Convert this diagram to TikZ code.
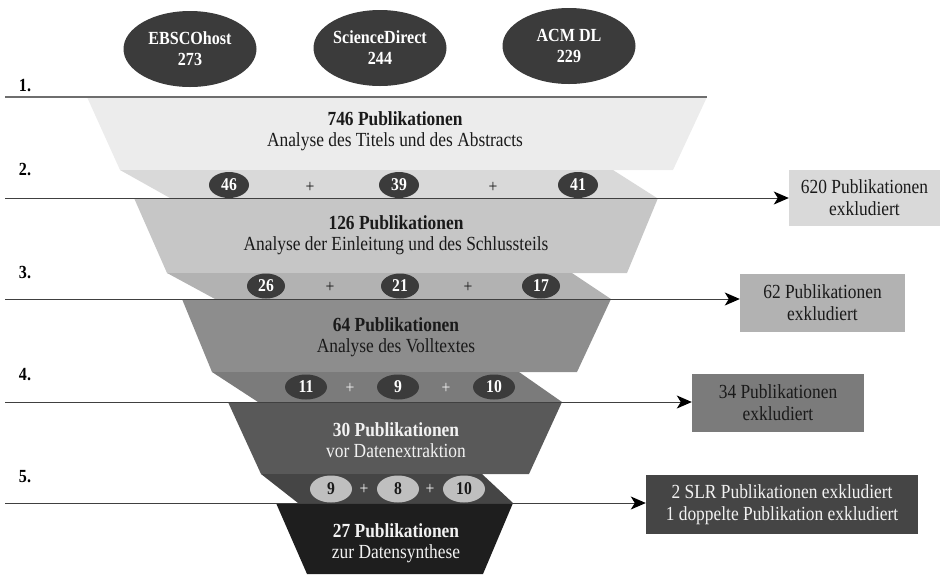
\documentclass[tikz,border=0pt]{standalone}
\usepackage{fontspec}
\setmainfont[FakeStretch=0.87]{Liberation Serif}
\usetikzlibrary{shapes.geometric,arrows.meta}
\definecolor{fA}{HTML}{ECECEC}
\definecolor{fAb}{HTML}{D9D9D9}
\definecolor{fB}{HTML}{C6C6C6}
\definecolor{fBb}{HTML}{B2B2B2}
\definecolor{fC}{HTML}{8D8D8D}
\definecolor{fCb}{HTML}{7B7B7B}
\definecolor{fD}{HTML}{595959}
\definecolor{fDb}{HTML}{454545}
\definecolor{fE}{HTML}{1E1E1E}
\definecolor{ovdark}{HTML}{3B3B3B}
\definecolor{ovlight}{HTML}{BFBFBF}
\definecolor{linegray}{HTML}{6E6E6E}
\definecolor{txtdark}{HTML}{1A1A1A}
\definecolor{txtlight}{HTML}{F2F2F2}
\begin{document}
\begin{tikzpicture}[x=1pt,y=-1pt,
  dbnode/.style={ellipse, fill=ovdark, text=white, align=center,
    font=\bfseries\fontsize{18.5}{21}\selectfont, minimum width=133pt,
    minimum height=76pt, inner sep=0pt},
  numov/.style={ellipse, fill=ovdark, text=white, inner sep=0pt,
    font=\bfseries\fontsize{18}{20}\selectfont, minimum width=40pt, minimum height=26pt},
  numlt/.style={numov, fill=ovlight, text=txtdark},
  plussign/.style={font=\fontsize{18}{20}\selectfont, inner sep=0pt},
  stagetxt/.style={align=center, font=\fontsize{20}{21.5}\selectfont, inner sep=0pt},
  steplabel/.style={font=\bfseries\fontsize{18.5}{20}\selectfont, inner sep=0pt},
  exbox/.style={rectangle, align=center, font=\fontsize{20}{22}\selectfont, inner sep=0pt},
  sepline/.style={draw=linegray, line width=1.3pt},
  arrline/.style={draw=black!75, line width=1pt, -{Stealth[length=15pt,width=13pt,inset=4pt,color=black]}}
]
\useasboundingbox (0,0) rectangle (943,574);

% funnel
\fill[fA]  (87,97) -- (707,97) -- (673,170) -- (120,170) -- cycle;
\fill[fAb] (120,170) -- (613,170) -- (657,198) -- (170,198) -- cycle;
\fill[fB]  (134,198) -- (658,198) -- (627,273) -- (167,273) -- cycle;
\fill[fBb] (167,273) -- (572,273) -- (611,299) -- (215,299) -- cycle;
\fill[fC]  (182,299) -- (611,299) -- (577,372) -- (212,372) -- cycle;
\fill[fCb] (212,372) -- (519,372) -- (562,402) -- (258,402) -- cycle;
\fill[fD]  (228,402) -- (562,402) -- (529,474) -- (261,474) -- cycle;
\fill[fDb] (261,474) -- (482,474) -- (513,503) -- (298,503) -- cycle;
\fill[fE]  (276,503) -- (513,503) -- (483,574) -- (307,574) -- cycle;

% databases
\node[dbnode] (ebsco) at (190,49) {EBSCOhost\\273};
\node[dbnode] (sd) at (380,48) {ScienceDirect\\244};
\node[dbnode] (acm) at (569,46) {ACM DL\\229};

% step labels
\node[steplabel] (s1) at (25,86) {1.};
\node[steplabel] (s2) at (25,170) {2.};
\node[steplabel] (s3) at (25,272) {3.};
\node[steplabel] (s4) at (25,375) {4.};
\node[steplabel] (s5) at (25,477) {5.};

% exclusion boxes
\node[exbox, fill=fAb, text=txtdark, minimum width=151pt, minimum height=56pt] (x1) at (864.5,198) {620 Publikationen\\exkludiert};
\node[exbox, fill=fBb, text=txtdark, minimum width=165pt, minimum height=58pt] (x2) at (822.5,303) {62 Publikationen\\exkludiert};
\node[exbox, fill=fCb, text=txtdark, minimum width=172pt, minimum height=58pt] (x3) at (778,403) {34 Publikationen\\exkludiert};
\node[exbox, fill=fDb, text=txtlight, minimum width=272pt, minimum height=59pt] (x4) at (782,504.5) {2 SLR Publikationen exkludiert\\1 doppelte Publikation exkludiert};

% lines
\coordinate (l1a) at (5,97);
\coordinate (l1b) at (707,97);
\coordinate (l2a) at (5,198);
\coordinate (l3a) at (5,299);
\coordinate (l4a) at (5,402);
\coordinate (l5a) at (5,503);
\draw[sepline] (l1a) -- (l1b);
\draw[arrline] (l2a) -- (l2a -| x1.west);
\draw[arrline] (l3a) -- (l3a -| x2.west);
\draw[arrline] (l4a) -- (l4a -| x3.west);
\draw[arrline] (l5a) -- (l5a -| x4.west);

% stage texts
\node[stagetxt, text=txtdark] (t1) at (395,131) {\textbf{746 Publikationen}\\Analyse des Titels und des Abstracts};
\node[stagetxt, text=txtdark] (t2) at (396,235) {\textbf{126 Publikationen}\\Analyse der Einleitung und des Schlussteils};
\node[stagetxt, text=txtdark] (t3) at (396,337) {\textbf{64 Publikationen}\\Analyse des Volltextes};
\node[stagetxt, text=txtlight] (t4) at (396,440) {\textbf{30 Publikationen}\\vor Datenextraktion};
\node[stagetxt, text=txtlight] (t5) at (396,543) {\textbf{27 Publikationen}\\zur Datensynthese};

% counts band 2
\node[numov] (n21) at (229,185) {46};
\node[plussign, text=txtdark] (p21) at (310,187) {+};
\node[numov] (n22) at (399,185) {39};
\node[plussign, text=txtdark] (p22) at (493,187) {+};
\node[numov] (n23) at (578,185) {41};
% band 3
\node[numov, minimum width=38pt, minimum height=25pt] (n31) at (266,286) {26};
\node[plussign, text=txtdark] (p31) at (330,287) {+};
\node[numov, minimum width=38pt, minimum height=25pt] (n32) at (400,286) {21};
\node[plussign, text=txtdark] (p32) at (468,287) {+};
\node[numov, minimum width=38pt, minimum height=25pt] (n33) at (541,286) {17};
% band 4
\node[numov, minimum width=42pt, minimum height=25pt] (n41) at (306,387) {11};
\node[plussign, text=txtlight] (p41) at (350,388) {+};
\node[numov, minimum width=42pt, minimum height=25pt] (n42) at (398,387) {9};
\node[plussign, text=txtlight] (p42) at (446,388) {+};
\node[numov, minimum width=42pt, minimum height=25pt] (n43) at (494,387) {10};
% band 5
\node[numlt, minimum width=42pt, minimum height=27pt] (n51) at (331,489) {9};
\node[plussign, text=txtlight] (p51) at (364,489) {+};
\node[numlt, minimum width=42pt, minimum height=27pt] (n52) at (398,489) {8};
\node[plussign, text=txtlight] (p52) at (430,489) {+};
\node[numlt, minimum width=42pt, minimum height=27pt] (n53) at (464,489) {10};
\end{tikzpicture}
\end{document}
